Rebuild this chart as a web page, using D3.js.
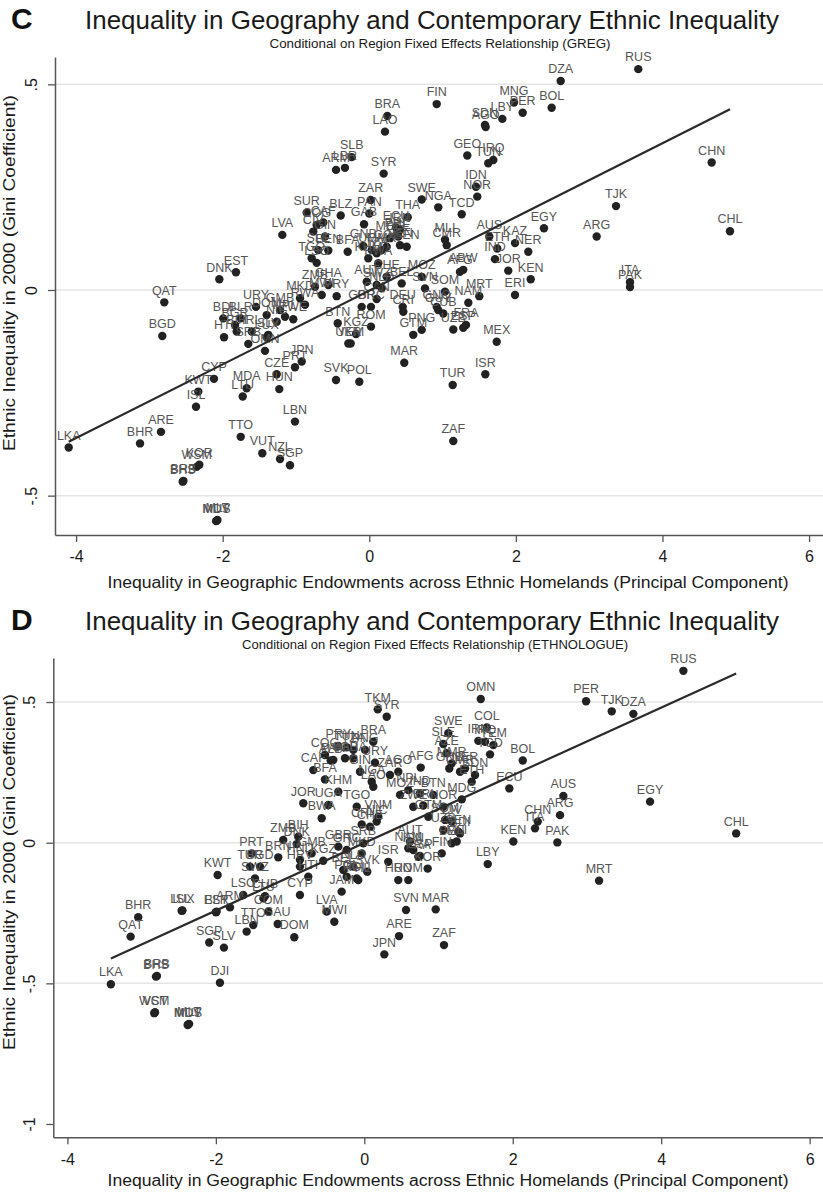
<!DOCTYPE html>
<html>
<head>
<meta charset="utf-8">
<script src="https://cdn.jsdelivr.net/npm/d3@7"></script>
<style>
  body { margin: 0; background: #fff; }
  svg { display: block; font-family: "Liberation Sans", Arial, sans-serif; }
</style>
</head>
<body>
<svg id="chart" width="823" height="1192"></svg>
<script>
// Panel C (GREG): country code, geographic inequality (PC), ethnic Gini residual
const codesC = ["FIN","BRA","LAO","SLB","LBR","ARM","SYR","ZAR","SWE","NGA","SUR","BLZ","PAN","GAB","THA","ECU","AZE","CAF","LVA","DNK",
  "EST","QAT","BGD","BDI","BLR","BGR","HTI","BIH","IRL","SRB","LUX","SLV","OMN","URY","DOM","GMB","NIC","NPL","ZWE","MKD",
  "RWA","ZMB","GHA","MWI","PRY","CIV","COG","GIN","BEN","SLE","TGO","LSO","BFA","GNB","UGA","KHM","TZA","MMR","COL","MDG",
  "PHL","VEN","SEN","IRN","BWA","CHE","AUT","SWZ","NLD","BEL","MOZ","SVN","SOM","GBR","GRC","CAN","DEU","CRI","BTN","ROM",
  "KGZ","UKR","YEM","GTM","PNG","GNQ","GUY","CUB","UZB","FRA","ESP","NAM","MRT","ERI","MEX","ISR","TUR","ZAF","MAR","SVK",
  "POL","JPN","PRT","CZE","MDA","LTU","HUN","CYP","KWT","ISL","LBN","TTO","VUT","NZL","SGP","ARE","BHR","LKA","WSM","KOR",
  "BHS","BRB","MUS","MLT","MDV","MLI","CMR","AUS","ETH","IND","JOR","KAZ","NER","KEN","AFG","ABW","EGY","ARG","TJK","CHN",
  "CHL","ITA","PAK","RUS","DZA","MNG","PER","BOL","LBY","SDN","AGO","GEO","IRQ","TUN","IDN","NOR","TCD"];
const xC = [0.92,0.246,0.214,-0.24,-0.332,-0.454,0.196,0.019,0.715,0.941,-0.854,-0.39,0,-0.072,0.524,0.364,0.396,-0.628,-1.187,-2.046,
  -1.819,-2.797,-2.824,-1.992,-1.754,-1.832,-1.982,-1.809,-1.604,-1.651,-1.4,-1.378,-1.423,-1.546,-1.4,-1.218,-1.263,-1.15,-1.037,-0.945,
  -0.877,-0.741,-0.559,-0.649,-0.445,-0.764,-0.718,-0.604,-0.559,-0.696,-0.786,-0.718,-0.295,-0.082,0.033,-0.014,0.101,0.169,0.237,0.282,
  0.374,0.419,0.51,0.419,0.123,0.237,-0.035,0.101,0.169,0.442,0.715,0.76,1.033,-0.104,0.023,0.101,0.456,0.464,-0.431,0.023,
  -0.181,-0.286,-0.254,0.6,0.715,0.92,0.941,1.01,1.146,1.319,1.282,1.351,1.501,1.988,1.738,1.583,1.138,1.146,0.477,-0.454,
  -0.136,-0.922,-1.014,-1.263,-1.673,-1.727,-1.228,-2.119,-2.333,-2.364,-1.014,-1.754,-1.46,-1.218,-1.082,-2.842,-3.128,-4.101,-2.355,-2.319,
  -2.546,-2.536,-2.082,-2.072,-2.09,1.033,1.056,1.637,1.746,1.715,1.896,1.988,2.169,2.202,1.237,1.282,2.383,3.102,3.366,4.671,
  4.921,3.557,3.557,3.67,2.611,1.974,2.093,2.488,1.815,1.578,1.588,1.337,1.692,1.623,1.456,1.473,1.261];
const yC = [0.452,0.423,0.385,0.323,0.297,0.292,0.283,0.219,0.22,0.201,0.188,0.181,0.186,0.16,0.177,0.152,0.13,0.164,0.134,0.026,
  0.043,-0.03,-0.112,-0.069,-0.069,-0.085,-0.115,-0.101,-0.101,-0.131,-0.115,-0.109,-0.148,-0.041,-0.061,-0.049,-0.077,-0.065,-0.071,-0.02,
  -0.036,0.008,0.012,-0.012,-0.015,0.142,0.158,0.13,0.096,0.097,0.077,0.066,0.093,0.107,0.097,0.077,0.089,0.097,0.105,0.126,
  0.134,0.109,0.105,0.146,0.065,0.032,0.02,0.012,0.004,0.016,0.032,0.004,-0.004,-0.041,-0.041,-0.022,-0.041,-0.053,-0.081,-0.089,
  -0.107,-0.13,-0.13,-0.109,-0.097,-0.041,-0.049,-0.057,-0.096,-0.085,-0.092,-0.031,-0.015,-0.012,-0.126,-0.205,-0.231,-0.367,-0.177,-0.219,
  -0.223,-0.174,-0.188,-0.205,-0.239,-0.259,-0.241,-0.216,-0.247,-0.284,-0.32,-0.357,-0.397,-0.411,-0.426,-0.345,-0.373,-0.383,-0.43,-0.425,
  -0.466,-0.464,-0.561,-0.559,-0.562,0.122,0.109,0.13,0.101,0.075,0.047,0.114,0.093,0.026,0.044,0.049,0.15,0.13,0.204,0.31,
  0.143,0.019,0.007,0.537,0.508,0.456,0.431,0.443,0.416,0.401,0.396,0.327,0.316,0.308,0.251,0.227,0.184];
const fitC = { intercept: -0.0016, slope: 0.0896 };

// Panel D (ETHNOLOGUE)
const codesD = ["RUS","OMN","PER","TJK","DZA","SWE","COL","IRN","IRQ","YEM","TCD","BOL","ECU","AUS","ARG","CHN","ITA","KEN","PAK","LBY",
  "MRT","EGY","CHL","AZE","SLE","MMR","GNB","CMR","NER","ETH","SDN","MDG","NOR","SOM","CIV","SEN","UZB","BDI","BEN","MLI",
  "FIN","TKM","SYR","BRA","PRY","TUN","TZA","PNG","COG","PAN","GAB","GHA","URY","CAF","ALB","BFA","GIN","ZAR","AGO","AFG",
  "KHM","NGA","LAO","MOZ","NPL","IND","BTN","JOR","BWA","UGA","TGO","ZWE","ERI","VNM","CRI","CHE","NIC","GTM","ZMB","BIH",
  "DNK","GMB","HND","HRV","GBR","GRC","KGZ","SRB","MKD","PRT","BRN","TUR","BGD","KWT","SWZ","HTI","BEL","NLD","SVK","POL",
  "ROU","ISR","AUT","NAM","IDN","FRA","ESP","HUN","ROM","KOR","LKA","BHR","QAT","BHS","BRB","WSM","VCT","MUS","MLT","MDV",
  "ISL","LUX","EST","BLR","ARM","LSO","LTU","SGP","SLV","DJI","LBN","TTO","SAU","COM","CUB","CYP","DOM","LVA","MWI","JAM",
  "SVN","MAR","ARE","JPN","ZAF","PHL"];
const xD = [4.299,1.569,2.988,3.334,3.625,1.132,1.65,1.536,1.627,1.739,1.694,2.135,1.954,2.682,2.637,2.337,2.3,2.008,2.601,1.663,
  3.163,3.85,5.01,1.11,1.065,1.178,1.145,1.29,1.357,1.447,1.492,1.313,1.065,1.088,1.178,1.267,1.065,1.29,1.178,1.245,
  1.043,0.181,0.302,0.121,-0.35,-0.237,-0.148,0.009,-0.53,-0.418,-0.26,-0.148,0.144,-0.687,-0.453,-0.53,-0.058,0.346,0.458,0.76,
  -0.35,0.1,0.121,0.481,0.593,0.751,0.93,-0.822,-0.574,-0.485,-0.102,0.66,0.795,0.189,-0.035,0.077,0.167,0.863,-1.092,-0.89,
  -0.911,-0.709,-0.867,-0.867,-0.35,-0.237,-0.553,-0.013,-0.035,-1.518,-1.159,-1.54,-1.405,-1.976,-1.473,-0.755,-0.283,-0.148,0.04,-0.237,
  -0.102,0.323,0.616,0.593,0.66,0.728,0.751,0.458,0.593,0.854,-3.414,-3.046,-3.148,-2.807,-2.794,-2.83,-2.82,-2.372,-2.36,-2.38,
  -2.461,-2.45,-1.999,-1.99,-1.81,-1.631,-1.359,-2.089,-1.891,-1.945,-1.585,-1.496,-1.167,-1.294,-1.338,-0.867,-0.943,-0.507,-0.404,-0.305,
  0.562,0.962,0.468,0.27,1.074,-0.081];
const yD = [0.611,0.511,0.503,0.467,0.458,0.389,0.41,0.362,0.359,0.347,0.314,0.292,0.193,0.166,0.098,0.075,0.051,0.004,0.001,-0.076,
  -0.135,0.146,0.033,0.318,0.351,0.282,0.264,0.252,0.264,0.217,0.241,0.154,0.128,0.081,0.075,0.039,0.045,0.033,-0.002,0.004,
  -0.038,0.474,0.448,0.359,0.344,0.339,0.33,0.33,0.312,0.294,0.3,0.3,0.284,0.258,0.292,0.225,0.252,0.241,0.252,0.267,
  0.181,0.217,0.199,0.17,0.187,0.176,0.17,0.14,0.087,0.134,0.128,0.128,0.132,0.092,0.065,0.057,0.075,0.092,0.01,0.021,
  -0.005,-0.038,-0.061,-0.085,-0.014,-0.026,-0.064,-0.002,-0.038,-0.038,-0.052,-0.085,-0.085,-0.115,-0.127,-0.121,-0.097,-0.085,-0.103,-0.121,
  -0.127,-0.068,0.004,-0.02,-0.026,-0.05,-0.047,-0.133,-0.133,-0.092,-0.503,-0.265,-0.334,-0.476,-0.474,-0.606,-0.603,-0.646,-0.644,-0.648,
  -0.242,-0.241,-0.247,-0.245,-0.23,-0.186,-0.198,-0.355,-0.373,-0.498,-0.316,-0.293,-0.289,-0.245,-0.19,-0.186,-0.336,-0.245,-0.281,-0.174,
  -0.239,-0.237,-0.332,-0.397,-0.364,-0.133];
const fitD = { intercept: -0.0008, slope: 0.1203 };

const xTicks = [-4, -2, 0, 2, 4, 6];
const yTicksC = [0.5, 0, -0.5];
const yTicksD = [0.5, 0, -0.5, -1];

const mainTitle = "Inequality in Geography and Contemporary Ethnic Inequality";
const xTitle = "Inequality in Geographic Endowments across Ethnic Homelands (Principal Component)";
const yTitle = "Ethnic Inequality in 2000 (Gini Coefficient)";

const svg = d3.select("#chart");

// Stata style tick labels: .5, -.5
const fmtY = d => d === 0 ? "0" : String(d).replace("0.", ".");

function drawPanel(p) {
    const x = d3.scaleLinear().domain(p.xDomain).range([p.left, p.right]);
    const y = d3.scaleLinear().domain(p.yDomain).range([p.bottom, p.top]);
    const g = svg.append("g");

    // Titres
    g.append("text")
        .attr("x", 11).attr("y", p.titleY)
        .style("font-size", "30px").style("font-weight", "bold")
        .attr("fill", "#111")
        .text(p.letter);
    g.append("text")
        .attr("x", 85).attr("y", p.titleY)
        .attr("textLength", 694).attr("lengthAdjust", "spacingAndGlyphs")
        .style("font-size", "26px").attr("fill", "#1a1a1a")
        .text(mainTitle);
    g.append("text")
        .attr("x", p.subX).attr("y", p.subY)
        .attr("text-anchor", "middle")
        .attr("textLength", p.subW).attr("lengthAdjust", "spacingAndGlyphs")
        .style("font-size", "12px").attr("fill", "#1a1a1a")
        .text(p.subtitle);

    // Grid lines
    g.append("g").selectAll("line")
        .data(p.grid)
        .join("line")
            .attr("x1", p.left).attr("x2", p.right)
            .attr("y1", d => y(d)).attr("y2", d => y(d))
            .attr("stroke", "#e5e5e5").attr("stroke-width", 1.5);

    // Axe X
    const xAxis = d3.axisBottom(x)
        .tickValues(xTicks)
        .tickSize(7).tickSizeOuter(0).tickPadding(9)
        .tickFormat(d => String(d));
    const gx = g.append("g")
        .attr("transform", `translate(0,${p.bottom})`)
        .call(xAxis);
    gx.select(".domain").attr("stroke", "#555").attr("stroke-width", 1.5);
    gx.selectAll(".tick line").attr("stroke", "#555").attr("stroke-width", 1.3);
    gx.selectAll("text").style("font-size", "16px").style("font-family", "'Liberation Sans', Arial, sans-serif").attr("fill", "#1a1a1a");

    // Axe Y
    const yAxis = d3.axisLeft(y)
        .tickValues(p.yTicks)
        .tickSize(7).tickSizeOuter(0)
        .tickFormat(fmtY);
    const gy = g.append("g")
        .attr("transform", `translate(${p.left},0)`)
        .call(yAxis);
    gy.select(".domain").attr("stroke", "#555").attr("stroke-width", 1.5);
    gy.selectAll(".tick line").attr("stroke", "#555").attr("stroke-width", 1.3);
    gy.selectAll("text")
        .attr("transform", "rotate(-90)")
        .attr("x", 0).attr("y", -18).attr("dy", 0)
        .attr("text-anchor", "middle")
        .style("font-size", "16px").style("font-family", "'Liberation Sans', Arial, sans-serif")
        .attr("fill", "#1a1a1a");

    // Axis titles
    g.append("text")
        .attr("x", 448).attr("y", p.xTitleY)
        .attr("text-anchor", "middle")
        .attr("textLength", 681).attr("lengthAdjust", "spacingAndGlyphs")
        .style("font-size", "16px").attr("fill", "#1a1a1a")
        .text(xTitle);
    g.append("text")
        .attr("transform", `translate(15,${p.yTitleCenter}) rotate(-90)`)
        .attr("text-anchor", "middle")
        .attr("textLength", 356).attr("lengthAdjust", "spacingAndGlyphs")
        .style("font-size", "16px").attr("fill", "#1a1a1a")
        .text(yTitle);

    // Points
    const pts = p.codes.map((c, i) => ({ code: c, x: p.xs[i], y: p.ys[i] }));
    g.append("g").selectAll("circle")
        .data(pts)
        .join("circle")
            .attr("cx", d => x(d.x))
            .attr("cy", d => y(d.y))
            .attr("r", 4.2)
            .attr("fill", "#222");

    // Labels au-dessus des points
    g.append("g").selectAll("text")
        .data(pts)
        .join("text")
            .attr("x", d => x(d.x))
            .attr("y", d => y(d.y) - 7.8)
            .attr("text-anchor", "middle")
            .style("font-size", "12.5px")
            .attr("fill", "#555")
            .text(d => d.code);

    // Fitted line
    const [x0, x1] = d3.extent(p.xs);
    const line = d3.line().x(d => x(d)).y(d => y(p.fit.intercept + p.fit.slope * d));
    g.append("path")
        .datum([x0, x1])
        .attr("d", line)
        .attr("fill", "none")
        .attr("stroke", "#2a2a2a")
        .attr("stroke-width", 2.2);
}

drawPanel({
    letter: "C", titleY: 29, subY: 48, subX: 440, subW: 341,
    subtitle: "Conditional on Region Fixed Effects Relationship (GREG)",
    left: 55, right: 823, top: 57, bottom: 535,
    xDomain: [-4.288, 6.19], yDomain: [-0.5957, 0.5665],
    yTicks: yTicksC, grid: [0.5, 0, -0.5],
    xTitleY: 588, yTitleCenter: 273,
    codes: codesC, xs: xC, ys: yC, fit: fitC
});

drawPanel({
    letter: "D", titleY: 630, subY: 649, subX: 435, subW: 386,
    subtitle: "Conditional on Region Fixed Effects Relationship (ETHNOLOGUE)",
    left: 53.3, right: 823, top: 658, bottom: 1137.3,
    xDomain: [-4.19, 6.18], yDomain: [-1.0473, 0.6566],
    yTicks: yTicksD, grid: [0.5, 0, -0.5],
    xTitleY: 1186, yTitleCenter: 872,
    codes: codesD, xs: xD, ys: yD, fit: fitD
});
</script>
</body>
</html>
